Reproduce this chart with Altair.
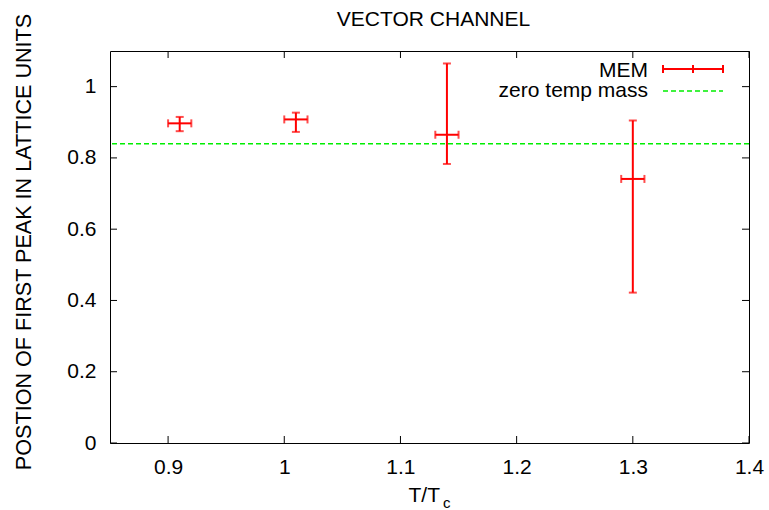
import altair as alt
import pandas as pd

# ---- data ----
temp_ratio = [0.91, 1.01, 1.14, 1.30]
temp_lo = [0.90, 1.00, 1.13, 1.29]
temp_hi = [0.92, 1.02, 1.15, 1.31]
peak_pos = [0.897, 0.908, 0.865, 0.741]
peak_lo = [0.875, 0.873, 0.783, 0.422]
peak_hi = [0.915, 0.927, 1.065, 0.905]
zero_temp_mass = [0.840]

x_ticks = [0.9, 1.0, 1.1, 1.2, 1.3, 1.4]
y_ticks = [0, 0.2, 0.4, 0.6, 0.8, 1.0]
x_domain = [0.85, 1.4]
y_domain = [0, 1.1]

W, H = 639, 392
FONT = "Liberation Sans"
FS = 21
RED = "#ff0000"
GREEN = "#00ee00"

df = pd.DataFrame({"x": temp_ratio, "xlo": temp_lo, "xhi": temp_hi,
                   "y": peak_pos, "ylo": peak_lo, "yhi": peak_hi})
mass_df = pd.DataFrame({"m": zero_temp_mass})
one_df = pd.DataFrame({"k": [0]})
xt_df = pd.DataFrame({"v": x_ticks})
yt_df = pd.DataFrame({"v": y_ticks})

xscale = alt.Scale(domain=x_domain, nice=False, zero=False)
yscale = alt.Scale(domain=y_domain, nice=False, zero=False)

xaxis = alt.Axis(values=x_ticks, format="~g", ticks=False, tickSize=0, domain=False,
                 grid=False, labelFontSize=FS, labelFont=FONT, labelColor="black",
                 labelBaseline="alphabetic", labelPadding=30, labelFlush=False,
                 labelOverlap=False, title=None)
yaxis = alt.Axis(values=y_ticks, format="~g", ticks=False, tickSize=0, domain=False,
                 grid=False, labelFontSize=FS, labelFont=FONT, labelColor="black",
                 labelPadding=14, labelFlush=False, labelOverlap=False, title=None)

X = lambda f: alt.X(f, type="quantitative", scale=xscale, axis=xaxis)
Y = lambda f: alt.Y(f, type="quantitative", scale=yscale, axis=yaxis)

base = alt.Chart(df)
one = alt.Chart(one_df)

# zero temperature mass dashed line
mass = alt.Chart(mass_df).mark_rule(color=GREEN, strokeWidth=1.5, strokeDash=[5, 3]).encode(
    y=Y("m")
)

vbar = base.mark_rule(color=RED, strokeWidth=2).encode(
    x=X("x"), y=Y("ylo"), y2="yhi"
)
hbar = base.mark_rule(color=RED, strokeWidth=2).encode(
    x=X("xlo"), x2="xhi", y=Y("y")
)
cap_lo = base.mark_tick(color=RED, orient="horizontal", size=8, thickness=2).encode(
    x=X("x"), y=Y("ylo"))
cap_hi = base.mark_tick(color=RED, orient="horizontal", size=8, thickness=2).encode(
    x=X("x"), y=Y("yhi"))
cap_l = base.mark_tick(color=RED, orient="vertical", size=8, thickness=2).encode(
    x=X("xlo"), y=Y("y"))
cap_r = base.mark_tick(color=RED, orient="vertical", size=8, thickness=2).encode(
    x=X("xhi"), y=Y("y"))

# inward ticks (bottom/top, left/right)
xt = alt.Chart(xt_df)
yt = alt.Chart(yt_df)
tk = dict(color="black", strokeWidth=1)
xt_bot = xt.mark_rule(**tk).encode(x=X("v"), y=alt.value(H), y2=alt.value(H - 7))
xt_top = xt.mark_rule(**tk).encode(x=X("v"), y=alt.value(0), y2=alt.value(7))
yt_l = yt.mark_rule(**tk).encode(y=Y("v"), x=alt.value(0), x2=alt.value(7))
yt_r = yt.mark_rule(**tk).encode(y=Y("v"), x=alt.value(W), x2=alt.value(W - 7))

# legend
leg_txt = dict(font=FONT, fontSize=FS, color="black", align="right", baseline="alphabetic")
leg_mem = one.mark_text(text="MEM", **leg_txt).encode(x=alt.value(538), y=alt.value(26))
leg_zero = one.mark_text(text="zero temp mass", **leg_txt).encode(x=alt.value(538), y=alt.value(46))
leg_bar = one.mark_rule(color=RED, strokeWidth=2).encode(
    x=alt.value(553), x2=alt.value(613), y=alt.value(18))
leg_c1 = one.mark_rule(color=RED, strokeWidth=2).encode(
    x=alt.value(553), y=alt.value(14), y2=alt.value(22))
leg_c2 = one.mark_rule(color=RED, strokeWidth=2).encode(
    x=alt.value(613), y=alt.value(14), y2=alt.value(22))
leg_c3 = one.mark_rule(color=RED, strokeWidth=2).encode(
    x=alt.value(583), y=alt.value(14), y2=alt.value(22))
leg_green = one.mark_rule(color=GREEN, strokeWidth=1.5, strokeDash=[5, 3]).encode(
    x=alt.value(553), x2=alt.value(613), y=alt.value(40))

# titles
title = one.mark_text(text="VECTOR CHANNEL", font=FONT, fontSize=FS, color="black",
                      align="center", baseline="alphabetic").encode(
    x=alt.value(W / 2 + 4), y=alt.value(-25))
ytitle = one.mark_text(text="POSTION OF FIRST PEAK IN LATTICE UNITS", font=FONT,
                       fontSize=21.6, color="black", angle=270, align="center",
                       baseline="middle").encode(x=alt.value(-85), y=alt.value(191))
xtitle1 = one.mark_text(text="T/T", font=FONT, fontSize=FS, color="black",
                        align="right", baseline="alphabetic").encode(
    x=alt.value(330), y=alt.value(451))
xtitle2 = one.mark_text(text="c", font=FONT, fontSize=15, color="black",
                        align="left", baseline="alphabetic").encode(
    x=alt.value(333), y=alt.value(457))

chart = alt.layer(
    mass, vbar, hbar, cap_lo, cap_hi, cap_l, cap_r,
    xt_bot, xt_top, yt_l, yt_r,
    leg_mem, leg_zero, leg_bar, leg_c1, leg_c2, leg_c3, leg_green,
    title, ytitle, xtitle1, xtitle2,
).properties(
    width=W, height=H,
    autosize=alt.AutoSizeParams(type="none"),
    padding={"left": 110, "top": 51, "right": 20, "bottom": 67},
    background="white",
).configure_view(stroke="black", strokeWidth=1).configure_axis(grid=False)

chart.save("out.html", embed_options={"renderer": "svg", "actions": False})
